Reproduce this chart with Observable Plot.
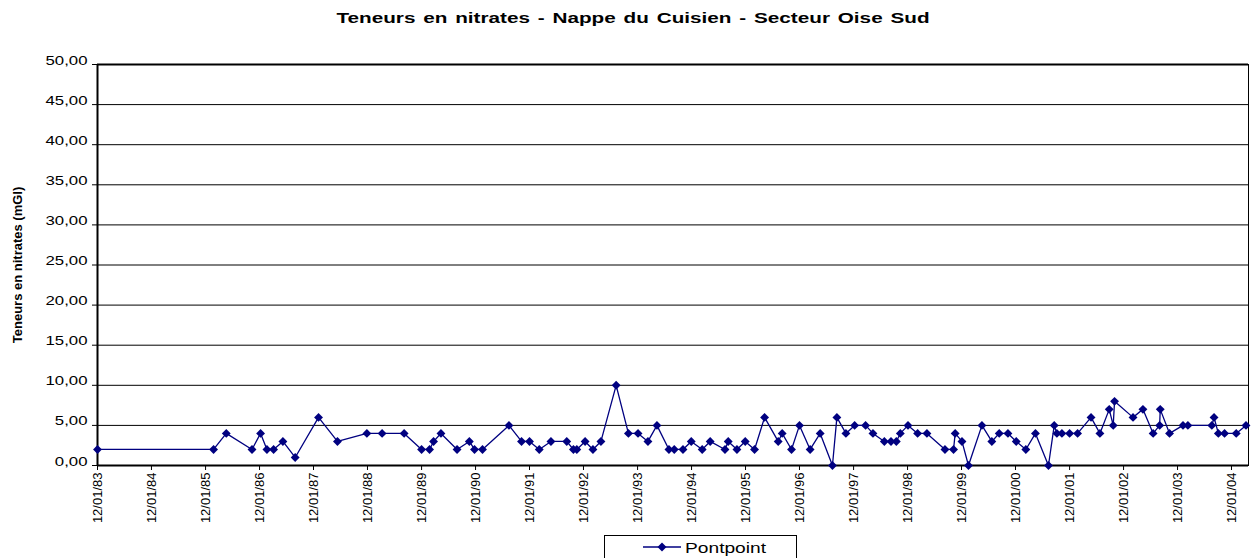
<!DOCTYPE html>
<html>
<head>
<meta charset="utf-8">
<script src="https://cdn.jsdelivr.net/npm/d3@7"></script>
<script src="https://cdn.jsdelivr.net/npm/@observablehq/plot@0.6"></script>
<style>
  body { margin: 0; background: #fff; }
  #wrap { position: relative; width: 1253px; height: 558px; overflow: hidden; font-family: "Liberation Sans", Arial, sans-serif; background: #fff; }
  #title { position: absolute; top: 10px; left: 633px; font-size: 15px; font-weight: bold; line-height: 15px; white-space: nowrap; transform: translateX(-50%) scaleX(1.38); word-spacing: 1.5px; color: #000; }
  #chart { position: absolute; left: 0; top: 0; }
  #legend { position: absolute; left: 604px; top: 535px; width: 193px; height: 40px; border: 1px solid #000; box-sizing: border-box; background: #fff; }
  #legend svg { position: absolute; left: 38px; top: 0; }
  #legend span { position: absolute; left: 80px; top: 5px; font-size: 14px; line-height: 14px; white-space: nowrap; transform: scaleX(1.37); transform-origin: left center; color: #000; }
</style>
</head>
<body>
<div id="wrap">
  <div id="chart"></div>
  <div id="title"></div>
  <div id="legend"></div>
</div>
<script>
// ---- Data ----
const chartTitle = "Teneurs en nitrates - Nappe du Cuisien - Secteur Oise Sud";
const yLabel = "Teneurs en nitrates (mGl)";
const seriesName = "Pontpoint";

const sampleDates = [
  "1983-01-12","1985-03-07","1985-06-01","1985-11-22","1986-01-19","1986-03-03","1986-04-17","1986-06-19","1986-09-10",
  "1987-02-15","1987-06-23","1988-01-08","1988-04-20","1988-09-16","1989-01-12","1989-03-07","1989-04-03","1989-05-23",
  "1989-09-09","1989-12-01","1990-01-05","1990-02-28","1990-08-26","1990-11-19","1991-01-12","1991-03-19","1991-06-06",
  "1991-09-21","1991-11-05","1991-11-28","1992-01-23","1992-03-16","1992-05-09","1992-08-20","1992-11-11","1993-01-15",
  "1993-03-23","1993-05-23","1993-08-12","1993-09-17","1993-11-15","1994-01-10","1994-03-25","1994-05-18","1994-08-26",
  "1994-09-17","1994-11-15","1995-01-10","1995-03-14","1995-05-21","1995-08-21","1995-09-17","1995-11-19","1996-01-12",
  "1996-03-24","1996-05-31","1996-08-22","1996-09-21","1996-11-21","1997-01-19","1997-04-03","1997-05-23","1997-08-08",
  "1997-09-22","1997-10-28","1997-11-24","1998-01-15","1998-03-21","1998-05-23","1998-09-22","1998-11-19","1998-11-30",
  "1999-01-15","1999-02-28","1999-05-30","1999-08-05","1999-09-24","1999-11-22","2000-01-17","2000-03-22","2000-05-26",
  "2000-08-22","2000-09-30","2000-10-18","2000-11-21","2001-01-12","2001-03-07","2001-06-06","2001-08-05","2001-10-07",
  "2001-11-03","2001-11-12","2002-03-17","2002-05-23","2002-07-31","2002-09-13","2002-09-17","2002-11-19","2003-02-18",
  "2003-03-23","2003-09-01","2003-09-16","2003-10-15","2003-11-26","2004-02-13","2004-04-19"
];
const nitrateValues = [
  2,2,4,2,4,2,2,3,1,
  6,3,4,4,4,2,2,3,4,
  2,3,2,2,5,3,3,2,3,
  3,2,2,3,2,3,10,4,4,
  3,5,2,2,2,3,2,3,2,
  3,2,3,2,6,3,4,2,5,
  2,4,0,6,4,5,5,4,3,
  3,3,4,5,4,4,2,2,4,
  3,0,5,3,4,4,3,2,4,
  0,5,4,4,4,4,6,4,7,
  5,8,6,7,4,5,7,4,5,
  5,5,6,4,4,4,5
];
const xTickLabels = ["12/01/83","12/01/84","12/01/85","12/01/86","12/01/87","12/01/88","12/01/89","12/01/90","12/01/91",
  "12/01/92","12/01/93","12/01/94","12/01/95","12/01/96","12/01/97","12/01/98","12/01/99","12/01/00","12/01/01",
  "12/01/02","12/01/03","12/01/04"];
const xDomainDates = ["1983-01-12", "2004-05-06"];
const yTicks = [0, 5, 10, 15, 20, 25, 30, 35, 40, 45, 50];

// ---- Build ----
const parseISO = d3.utcParse("%Y-%m-%d");
const parseTick = d3.utcParse("%d/%m/%y");
const data = sampleDates.map((d, i) => ({date: parseISO(d), value: nitrateValues[i]}));
const xTicks = xTickLabels.map(parseTick);
const xDomain = xDomainDates.map(parseISO);
const fmtY = d => d.toFixed(2).replace(".", ",");

const chart = Plot.plot({
  width: 1253,
  height: 558,
  marginTop: 64,
  marginBottom: 93,
  marginLeft: 97,
  marginRight: 5,
  style: {fontFamily: "Liberation Sans, Arial, sans-serif", fontSize: "12px", color: "#000", background: "transparent", overflow: "visible"},
  x: {type: "utc", domain: xDomain},
  y: {domain: [0, 50]},
  marks: [
    Plot.ruleY(yTicks, {stroke: "#000", strokeWidth: 1}),
    Plot.frame({stroke: "#000", strokeWidth: 1}),
    Plot.axisY({ticks: yTicks, tickFormat: fmtY, tickSize: 5, tickPadding: 5, fontSize: 12,
      label: yLabel, labelAnchor: "center", labelOffset: 85, labelArrow: false}),
    Plot.axisX({ticks: xTicks, tickFormat: d3.utcFormat("%d/%m/%y"), tickRotate: -90, tickSize: 5, tickPadding: 2,
      fontSize: 13, label: null}),
    Plot.ruleY([0], {stroke: "#000", strokeWidth: 2}),
    Plot.ruleY([50], {stroke: "#000", strokeWidth: 2}),
    Plot.ruleX([xDomain[0]], {stroke: "#000", strokeWidth: 2}),
    Plot.line(data, {x: "date", y: "value", stroke: "#000080", strokeWidth: 1.3}),
    Plot.dot(data, {x: "date", y: "value", symbol: "diamond2", fill: "#000080", stroke: "none", r: 4})
  ]
});
document.getElementById("chart").appendChild(chart);

// stretch horizontal y tick labels like the reference
function stretch(text, sx) {
  const t = text.getAttribute("transform") || "";
  if (text.hasAttribute("x") || text.hasAttribute("y")) {
    const x = +text.getAttribute("x") || 0, y = +text.getAttribute("y") || 0;
    text.removeAttribute("x"); text.removeAttribute("y");
    text.setAttribute("transform", `${t} translate(${x},${y}) scale(${sx},1)`);
  } else {
    text.setAttribute("transform", `${t} scale(${sx},1)`);
  }
}
chart.querySelectorAll('[aria-label="y-axis tick label"] text').forEach(t => stretch(t, 1.4));
chart.querySelectorAll('[aria-label="y-axis label"] text').forEach(t => {
  t.setAttribute("font-weight", "bold");
  t.setAttribute("font-size", "13px");
});

// title
document.getElementById("title").textContent = chartTitle;

// legend
const lg = document.getElementById("legend");
lg.innerHTML = `<svg width="40" height="22"><line x1="0" x2="38" y1="11" y2="11" stroke="#000080" stroke-width="1.3"/>
<path d="M19,6.5L23.5,11L19,15.5L14.5,11Z" fill="#000080"/></svg><span></span>`;
lg.querySelector("span").textContent = seriesName;
</script>
</body>
</html>
